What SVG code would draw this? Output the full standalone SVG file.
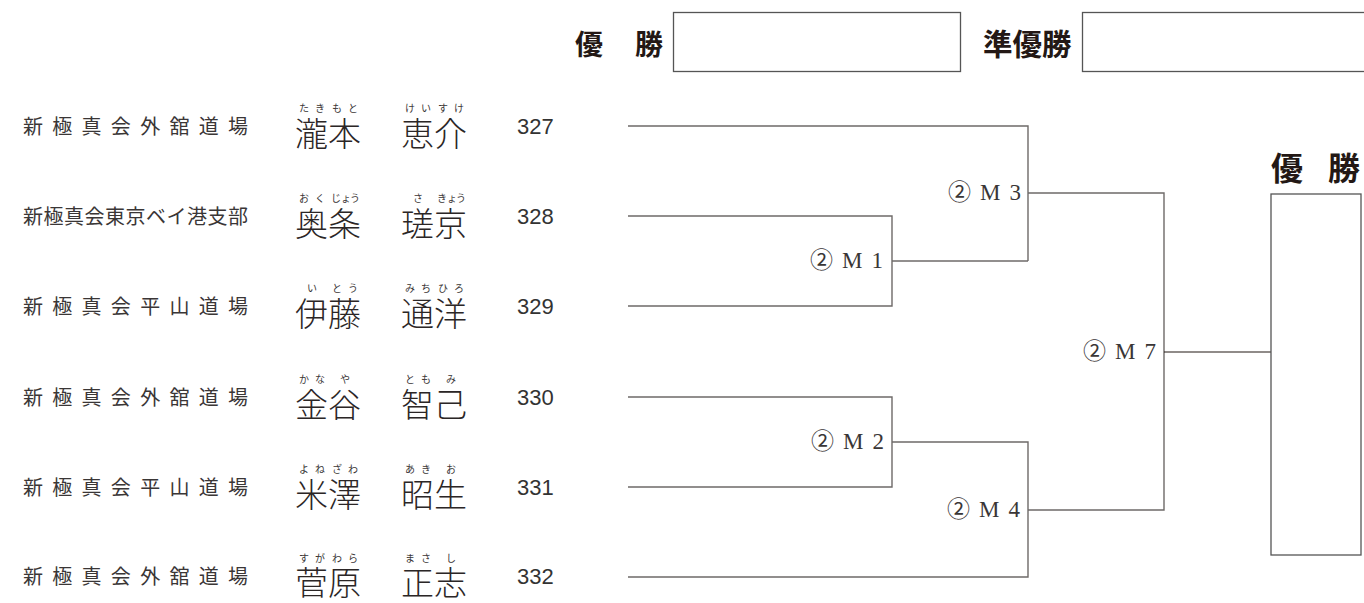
<svg xmlns="http://www.w3.org/2000/svg" width="1364" height="603" viewBox="0 0 1364 603">
<style>
.school{font-family:"Noto Sans CJK JP","Liberation Sans",sans-serif;font-size:20px;fill:#3a3636;}
.name{font-family:"Noto Sans CJK JP",sans-serif;font-size:33px;font-weight:300;fill:#2b2626;}
.kana{font-family:"Noto Sans CJK JP",sans-serif;font-size:10px;fill:#3a3636;}
.num{font-family:"Liberation Sans",Arial,sans-serif;font-size:22px;fill:#333;}
.lbl{font-family:"Liberation Serif","Noto Sans CJK JP",serif;font-size:23px;fill:#3a3636;}
.head{font-family:"Noto Sans CJK JP",sans-serif;font-weight:700;fill:#231815;}
.box{fill:#fff;stroke:#555;stroke-width:1.3;}
.ln{fill:none;stroke:#6e6a68;stroke-width:1.4;}
.ln2{fill:none;stroke:#231815;stroke-width:1.2;}
</style>
<rect width="1364" height="603" fill="#fff"/>

<g id="winner-top">
<text class="head" x="575" y="55" font-size="28">優</text>
<text class="head" x="635" y="55" font-size="28">勝</text>
<rect class="box" x="673.5" y="12.5" width="287" height="59"/>
</g>
<g id="runnerup-top">
<text class="head" x="983" y="55" font-size="29.5">準優勝</text>
<rect class="box" x="1082.5" y="12.5" width="290" height="59"/>
</g>

<g id="connectors">
<path class="ln" d="M628 126 H1028 V261"/>
<path class="ln" d="M628 216 H892 V306 H628"/>
<path class="ln" d="M892 261 H1028"/>
<path class="ln" d="M1028 193 H1164 V510 H1028"/>
<path class="ln" d="M628 397 H892 V487 H628"/>
<path class="ln" d="M892 442 H1028 V577 H628"/>
<path class="ln2" d="M1164 352 H1271"/>
</g>

<g id="p327">
<text class="school" x="23" y="134" textLength="225" lengthAdjust="spacing">新極真会外舘道場</text>
<text class="kana" x="299 315 332 348" y="112">たきもと</text>
<text class="kana" x="405 421 438 454" y="112">けいすけ</text>
<text class="name" x="295" y="146">瀧本</text><text class="name" x="401" y="146">恵介</text>
<text class="num" x="517" y="134">327</text>
</g>
<g id="p328">
<text class="school" x="23" y="224" textLength="225" lengthAdjust="spacing">新極真会東京ベイ港支部</text>
<text class="kana" x="299 315 331 341 350" y="202">おくじょう</text>
<text class="kana" x="413 437 447 456" y="202">さきょう</text>
<text class="name" x="295" y="236">奥条</text><text class="name" x="401" y="236">瑳京</text>
<text class="num" x="517" y="224">328</text>
</g>
<g id="p329">
<text class="school" x="23" y="314" textLength="225" lengthAdjust="spacing">新極真会平山道場</text>
<text class="kana" x="307 332 348" y="292">いとう</text>
<text class="kana" x="405 421 438 454" y="292">みちひろ</text>
<text class="name" x="295" y="326">伊藤</text><text class="name" x="401" y="326">通洋</text>
<text class="num" x="517" y="314">329</text>
</g>
<g id="p330">
<text class="school" x="23" y="405" textLength="225" lengthAdjust="spacing">新極真会外舘道場</text>
<text class="kana" x="299 315 340" y="383">かなや</text>
<text class="kana" x="405 421 446" y="383">ともみ</text>
<text class="name" x="295" y="417">金谷</text><text class="name" x="401" y="417">智己</text>
<text class="num" x="517" y="405">330</text>
</g>
<g id="p331">
<text class="school" x="23" y="495" textLength="225" lengthAdjust="spacing">新極真会平山道場</text>
<text class="kana" x="299 315 332 348" y="473">よねざわ</text>
<text class="kana" x="405 421 446" y="473">あきお</text>
<text class="name" x="295" y="507">米澤</text><text class="name" x="401" y="507">昭生</text>
<text class="num" x="517" y="495">331</text>
</g>
<g id="p332">
<text class="school" x="23" y="584" textLength="225" lengthAdjust="spacing">新極真会外舘道場</text>
<text class="kana" x="299 315 332 348" y="562">すがわら</text>
<text class="kana" x="405 421 446" y="562">まさし</text>
<text class="name" x="295" y="595">菅原</text><text class="name" x="401" y="595">正志</text>
<text class="num" x="517" y="584">332</text>
</g>

<g id="m1"><text class="lbl" x="810" y="268" textLength="73" lengthAdjust="spacing">② M 1</text></g>
<g id="m2"><text class="lbl" x="811" y="449" textLength="73" lengthAdjust="spacing">② M 2</text></g>
<g id="m3"><text class="lbl" x="948" y="200" textLength="73" lengthAdjust="spacing">② M 3</text></g>
<g id="m4"><text class="lbl" x="947" y="517" textLength="73" lengthAdjust="spacing">② M 4</text></g>
<g id="m7"><text class="lbl" x="1083" y="359" textLength="73" lengthAdjust="spacing">② M 7</text></g>

<g id="winner">
<text class="head" x="1271" y="180" font-size="32">優</text>
<text class="head" x="1328" y="180" font-size="32">勝</text>
<rect class="box" x="1271" y="194" width="90" height="361"/>
</g>
</svg>
